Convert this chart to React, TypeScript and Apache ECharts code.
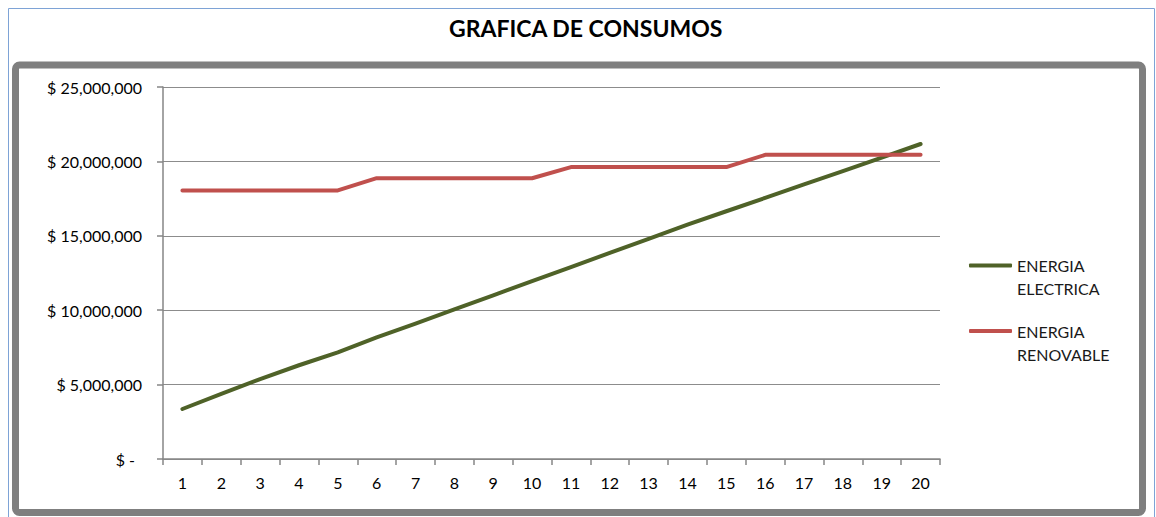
import React, { useEffect, useRef } from "react";
import * as echarts from "echarts";

const categories = ["1","2","3","4","5","6","7","8","9","10","11","12","13","14","15","16","17","18","19","20"];
const energiaElectrica = [3360000, 4370000, 5370000, 6300000, 7170000, 8170000, 9100000, 10060000, 11000000, 11950000, 12900000, 13850000, 14800000, 15750000, 16650000, 17550000, 18450000, 19350000, 20250000, 21170000];
const energiaRenovable = [18050000, 18050000, 18050000, 18050000, 18050000, 18870000, 18870000, 18870000, 18870000, 18870000, 19620000, 19620000, 19620000, 19620000, 19620000, 20440000, 20440000, 20440000, 20440000, 20440000];
const seriesNames = ["ENERGIA\nELECTRICA", "ENERGIA\nRENOVABLE"];
const titleText = "GRAFICA DE CONSUMOS";

const FONT = "Lato";

export default function App() {
  const ref = useRef<HTMLDivElement>(null);
  useEffect(() => {
    if (!ref.current) return;
    const chart = echarts.init(ref.current, undefined, { renderer: "svg" });
    const fmt = (v: number) => {
      if (v === 0) return "{z|$ -}";
      return "$ " + v.toLocaleString("en-US");
    };
    chart.setOption({
      animation: false,
      backgroundColor: "#ffffff",
      title: {
        text: titleText,
        left: 444,
        top: 11,
        textStyle: { fontFamily: FONT, fontWeight: "bold", fontSize: 23, color: "#000000" },
      },
      graphic: [
        { type: "rect", shape: { x: 8.5, y: 8.5, width: 1146, height: 520 }, style: { fill: "none", stroke: "#7ea3d6", lineWidth: 1 }, silent: true },
        { type: "rect", shape: { x: 15.5, y: 65, width: 1127, height: 447.5, r: 4 }, style: { fill: "none", stroke: "#7f7f7f", lineWidth: 7 }, silent: true },
      ],
      grid: { left: 163, right: 216, top: 87, bottom: 58, containLabel: false },
      legend: {
        orient: "vertical",
        left: 969,
        top: 231,
        padding: 0,
        itemWidth: 43,
        itemHeight: 4,
        itemGap: 0,
        icon: "roundRect",
        textStyle: {
          fontFamily: FONT,
          fontSize: 16,
          color: "#1a1a1a",
          rich: {
            e: { fontFamily: FONT, fontSize: 16, lineHeight: 23, height: 23 },
            a: { fontFamily: FONT, fontSize: 16, lineHeight: 23, color: "#1a1a1a" },
          },
        },
        formatter: (name: string) => {
          const parts = name.split("\n");
          return "{e| }\n{a|" + parts[0] + "}\n{a|" + parts[1] + "}";
        },
        data: seriesNames,
      },
      xAxis: {
        type: "category",
        data: categories,
        boundaryGap: true,
        axisLine: { show: true, lineStyle: { color: "#868686", width: 1.5 } },
        axisTick: { show: true, length: 6, lineStyle: { color: "#868686", width: 1.5 } },
        axisLabel: { fontFamily: FONT, fontSize: 16, color: "#000000", margin: 15 },
        splitLine: { show: false },
      },
      yAxis: {
        type: "value",
        min: 0,
        max: 25000000,
        interval: 5000000,
        axisLine: { show: true, lineStyle: { color: "#868686", width: 1.5 } },
        axisTick: { show: true, length: 6, lineStyle: { color: "#868686", width: 1.5 } },
        axisLabel: {
          fontFamily: FONT,
          fontSize: 16,
          color: "#000000",
          margin: 21,
          formatter: fmt,
          rich: { z: { fontFamily: FONT, fontSize: 16, color: "#000000", padding: [0, 7, 0, 0] } },
        },
        splitLine: { show: true, lineStyle: { color: "#8c8c8c", width: 1 } },
      },
      series: [
        {
          name: seriesNames[0],
          type: "line",
          data: energiaElectrica,
          symbol: "none",
          color: "#4F6228",
          lineStyle: { width: 4, color: "#4F6228", cap: "round", join: "round" },
        },
        {
          name: seriesNames[1],
          type: "line",
          data: energiaRenovable,
          symbol: "none",
          color: "#C0504D",
          lineStyle: { width: 4, color: "#C0504D", cap: "round", join: "round" },
        },
      ],
    });
    return () => chart.dispose();
  }, []);
  return (
    <div
      ref={ref}
      style={{ position: "fixed", left: 0, top: 0, width: 1156, height: 517 }}
    />
  );
}
